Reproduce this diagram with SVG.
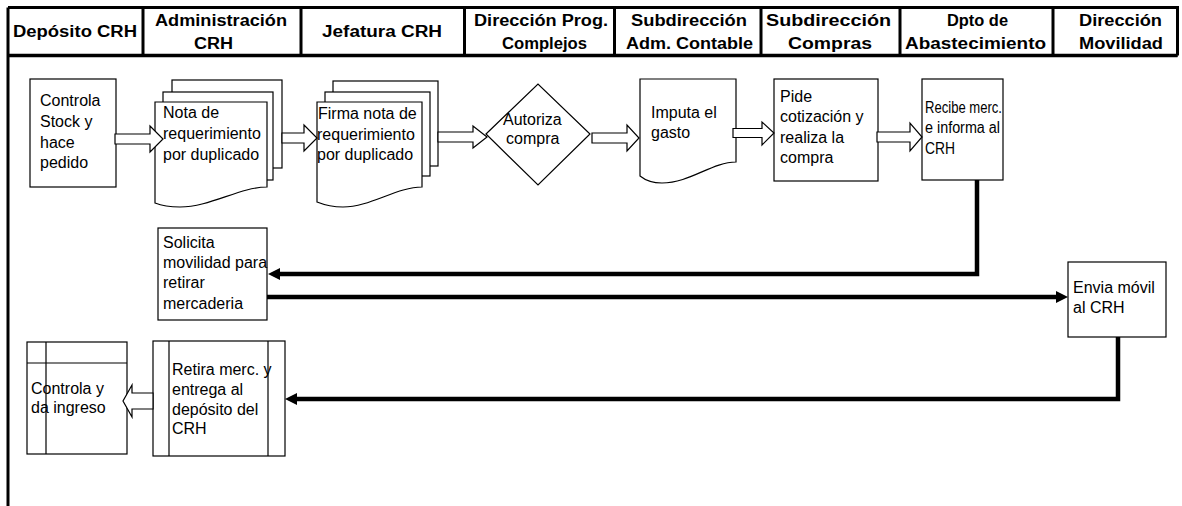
<svg xmlns="http://www.w3.org/2000/svg" width="1182" height="506" viewBox="0 0 1182 506">
<style>
.hd{font-family:"Liberation Sans",Arial,sans-serif;font-weight:bold;font-size:16px;fill:#000}
.tx{font-family:"Liberation Sans",Arial,sans-serif;font-size:16px;fill:#000}
.box{fill:#fff;stroke:#000;stroke-width:1.2}
.blk{fill:#fff;stroke:#000;stroke-width:1.2}
.con{fill:none;stroke:#000;stroke-width:4.5}
.grid{stroke:#000;stroke-width:3;fill:none}
</style>
<rect width="1182" height="506" fill="#fff"/>
<g id="header">
<path class="grid" d="M8,7.5 H1177.5 V55.5 M8,55.5 H1177.5 M8,7.5 V506 M143,7.5 V55.5 M301,7.5 V55.5 M464.5,7.5 V55.5 M614.5,7.5 V55.5 M761,7.5 V55.5 M900,7.5 V55.5 M1053,7.5 V55.5"/>
<line x1="8" y1="55.5" x2="1177.5" y2="55.5" stroke="#000" stroke-width="3.5"/>
<text class="hd" x="13" y="37" textLength="124" lengthAdjust="spacingAndGlyphs">Depósito CRH</text>
<text class="hd" x="155" y="25.5" textLength="132" lengthAdjust="spacingAndGlyphs">Administración</text>
<text class="hd" x="194" y="48.5" textLength="39" lengthAdjust="spacingAndGlyphs">CRH</text>
<text class="hd" x="322" y="37" textLength="120" lengthAdjust="spacingAndGlyphs">Jefatura CRH</text>
<text class="hd" x="474" y="25.5" textLength="134" lengthAdjust="spacingAndGlyphs">Dirección Prog.</text>
<text class="hd" x="502" y="48.5" textLength="85" lengthAdjust="spacingAndGlyphs">Complejos</text>
<text class="hd" x="631" y="25.5" textLength="116" lengthAdjust="spacingAndGlyphs">Subdirección</text>
<text class="hd" x="626" y="48.5" textLength="127" lengthAdjust="spacingAndGlyphs">Adm. Contable</text>
<text class="hd" x="766" y="25.5" textLength="125" lengthAdjust="spacingAndGlyphs">Subdirección</text>
<text class="hd" x="788" y="48.5" textLength="84" lengthAdjust="spacingAndGlyphs">Compras</text>
<text class="hd" x="947" y="25.5" textLength="61" lengthAdjust="spacingAndGlyphs">Dpto de</text>
<text class="hd" x="905" y="48.5" textLength="141" lengthAdjust="spacingAndGlyphs">Abastecimiento</text>
<text class="hd" x="1079" y="25.5" textLength="83" lengthAdjust="spacingAndGlyphs">Dirección</text>
<text class="hd" x="1079" y="48.5" textLength="84" lengthAdjust="spacingAndGlyphs">Movilidad</text>
</g>
<g id="n-controla-stock">
<rect class="box" x="30" y="79" width="86" height="108"/>
<text class="tx" x="40" y="106">Controla</text>
<text class="tx" x="40" y="127">Stock y</text>
<text class="tx" x="40" y="148">hace</text>
<text class="tx" x="40" y="168">pedido</text>
</g>
<g id="n-nota">
<rect class="box" x="172" y="80" width="110" height="88"/>
<rect class="box" x="163" y="92" width="110" height="88"/>
<path class="box" d="M155,102 H267 V187 C240,187 210,207 180,207 C168,207 160,205 155,203 Z"/>
<text class="tx" x="163" y="118">Nota de</text>
<text class="tx" x="163" y="139">requerimiento</text>
<text class="tx" x="163" y="160">por duplicado</text>
</g>
<g id="n-firma">
<rect class="box" x="333" y="81" width="105" height="85"/>
<rect class="box" x="325" y="92" width="105" height="84"/>
<path class="box" d="M317,102 H422 V187 C397,187 370,207 343,207 C330,207 322,204 317,202 Z"/>
<text class="tx" x="318" y="119">Firma nota de</text>
<text class="tx" x="317" y="140">requerimiento</text>
<text class="tx" x="317" y="160">por duplicado</text>
</g>
<g id="n-autoriza">
<polygon class="box" points="486,134 538,84 590,134 538,185"/>
<text class="tx" x="503" y="125">Autoriza</text>
<text class="tx" x="506" y="144">compra</text>
</g>
<g id="n-imputa">
<path class="box" d="M640,79 H736 V162 C712,162 690,183 662,183 C652,183 645,180 640,176 Z"/>
<text class="tx" x="651" y="118">Imputa el</text>
<text class="tx" x="651" y="138">gasto</text>
</g>
<g id="n-pide">
<rect class="box" x="774" y="79" width="104" height="102"/>
<text class="tx" x="780" y="102">Pide</text>
<text class="tx" x="780" y="122">cotización y</text>
<text class="tx" x="780" y="143">realiza la</text>
<text class="tx" x="780" y="163">compra</text>
</g>
<g id="n-recibe">
<rect class="box" x="922" y="79" width="81" height="101"/>
<text class="tx" x="925" y="113" textLength="77" lengthAdjust="spacingAndGlyphs">Recibe merc.</text>
<text class="tx" x="925" y="133" textLength="75" lengthAdjust="spacingAndGlyphs">e informa al</text>
<text class="tx" x="925" y="154" textLength="30" lengthAdjust="spacingAndGlyphs">CRH</text>
</g>
<g id="n-solicita">
<rect class="box" x="158" y="228" width="109" height="92"/>
<text class="tx" x="163" y="248">Solicita</text>
<text class="tx" x="163" y="268">movilidad para</text>
<text class="tx" x="163" y="288">retirar</text>
<text class="tx" x="163" y="309">mercaderia</text>
</g>
<g id="n-envia">
<rect class="box" x="1068" y="262" width="98" height="75"/>
<text class="tx" x="1073" y="293">Envia móvil</text>
<text class="tx" x="1073" y="313">al CRH</text>
</g>
<g id="n-retira">
<rect class="box" x="153" y="341" width="132" height="115"/>
<path d="M169,341 V456 M268,341 V456" stroke="#000" stroke-width="1.2"/>
<text class="tx" x="172" y="375">Retira merc. y</text>
<text class="tx" x="172" y="395">entrega al</text>
<text class="tx" x="172" y="415">depósito del</text>
<text class="tx" x="172" y="434">CRH</text>
</g>
<g id="n-controla-ingreso">
<rect class="box" x="27" y="342" width="100" height="112"/>
<path d="M46,342 V454 M27,363 H127" stroke="#000" stroke-width="1.2"/>
<text class="tx" x="31" y="394">Controla y</text>
<text class="tx" x="31" y="413">da ingreso</text>
</g>
<g id="connectors">
<polygon class="blk" points="115,134 150,134 150,126 163,139 150,152 150,144 115,144"/>
<polygon class="blk" points="282,133 304,133 304,125 317,138 304,151 304,143 282,143"/>
<polygon class="blk" points="438,132 473,132 473,126 487,137 473,148 473,142 438,142"/>
<polygon class="blk" points="592,133 627,133 627,125 639,138 627,151 627,143 592,143"/>
<polygon class="blk" points="733,128.5 762,128.5 762,122 774,133 762,145 762,137.5 733,137.5"/>
<polygon class="blk" points="877,132 910,132 910,123 922,137 910,151 910,142 877,142"/>
<polygon class="blk" points="153,393 132,393 132,385 123,401 132,417 132,409 153,409"/>
<path class="con" d="M977,180 V274 H279"/>
<path d="M268,274 L280,268 L280,280 Z" fill="#000"/>
<path class="con" d="M267,297 H1057"/>
<path d="M1068,297 L1056,291 L1056,303 Z" fill="#000"/>
<path class="con" d="M1118,337 V399 H296"/>
<path d="M285,399 L297,393 L297,405 Z" fill="#000"/>
</g>
</svg>
